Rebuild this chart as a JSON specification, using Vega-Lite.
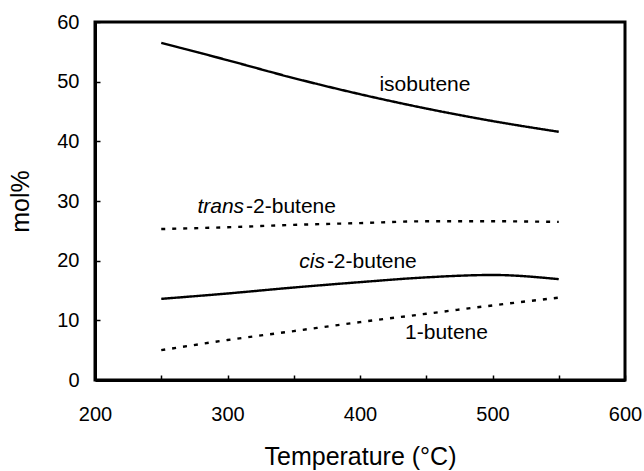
{
  "$schema": "https://vega.github.io/schema/vega-lite/v6.json",
  "autosize": "none",
  "width": 530,
  "height": 358,
  "padding": {"left": 95, "top": 22, "right": 19, "bottom": 91},
  "background": "white",
  "config": {
    "font": "Liberation Sans",
    "view": {"stroke": "black", "strokeWidth": 3},
    "axis": {"grid": false, "domainColor": "black", "domainWidth": 3, "tickColor": "black", "tickWidth": 1.5, "labelColor": "black", "titleColor": "black", "labelFont": "Liberation Sans", "titleFont": "Liberation Sans", "labelFontSize": 20, "titleFontSize": 25, "titleFontWeight": "normal"}
  },
  "datasets": {
    "curves": [
      {"series": "isobutene", "temp": 250, "value": 56.5},
      {"series": "isobutene", "temp": 300, "value": 53.6},
      {"series": "isobutene", "temp": 350, "value": 50.6},
      {"series": "isobutene", "temp": 400, "value": 47.9},
      {"series": "isobutene", "temp": 450, "value": 45.5},
      {"series": "isobutene", "temp": 500, "value": 43.4},
      {"series": "isobutene", "temp": 550, "value": 41.6},
      {"series": "trans-2-butene", "temp": 250, "value": 25.3},
      {"series": "trans-2-butene", "temp": 300, "value": 25.6},
      {"series": "trans-2-butene", "temp": 350, "value": 26.0},
      {"series": "trans-2-butene", "temp": 400, "value": 26.3},
      {"series": "trans-2-butene", "temp": 450, "value": 26.6},
      {"series": "trans-2-butene", "temp": 500, "value": 26.6},
      {"series": "trans-2-butene", "temp": 550, "value": 26.5},
      {"series": "cis-2-butene", "temp": 250, "value": 13.6},
      {"series": "cis-2-butene", "temp": 300, "value": 14.5},
      {"series": "cis-2-butene", "temp": 350, "value": 15.5},
      {"series": "cis-2-butene", "temp": 400, "value": 16.4},
      {"series": "cis-2-butene", "temp": 450, "value": 17.2},
      {"series": "cis-2-butene", "temp": 500, "value": 17.6},
      {"series": "cis-2-butene", "temp": 550, "value": 16.9},
      {"series": "1-butene", "temp": 250, "value": 5.0},
      {"series": "1-butene", "temp": 300, "value": 6.7},
      {"series": "1-butene", "temp": 350, "value": 8.2},
      {"series": "1-butene", "temp": 400, "value": 9.7},
      {"series": "1-butene", "temp": 450, "value": 11.1},
      {"series": "1-butene", "temp": 500, "value": 12.5},
      {"series": "1-butene", "temp": 550, "value": 13.8}
    ],
    "labelsLeft": [
      {"text": "-2-butene", "temp": 314, "value": 29.0},
      {"text": "-2-butene", "temp": 375, "value": 19.8},
      {"text": "1-butene", "temp": 434, "value": 7.9}
    ],
    "labelsRight": [
      {"text": "trans", "temp": 312.5, "value": 29.0},
      {"text": "cis", "temp": 373.5, "value": 19.8}
    ],
    "labelsCenter": [
      {"text": "isobutene", "temp": 449, "value": 49.4}
    ]
  },
  "layer": [
    {
      "data": {"name": "curves"},
      "mark": {"type": "line", "interpolate": "monotone", "color": "black", "strokeWidth": 2.4},
      "encoding": {
        "x": {"field": "temp", "type": "quantitative", "scale": {"domain": [200, 600]},
          "axis": {"title": "Temperature (°C)", "values": [200, 250, 300, 350, 400, 450, 500, 550, 600], "labelExpr": "datum.value % 100 == 0 ? datum.label : ''", "tickSize": -5, "labelPadding": 29, "titlePadding": 20, "labelFlush": false, "labelOverlap": false}},
        "y": {"field": "value", "type": "quantitative", "scale": {"domain": [0, 60]},
          "axis": {"title": "mol%", "values": [0, 5, 10, 15, 20, 25, 30, 35, 40, 45, 50, 55, 60], "labelExpr": "datum.value % 10 == 0 ? datum.label : ''", "tickSize": -5, "labelPadding": 21, "titlePadding": 23, "labelFlush": false, "labelOverlap": false}},
        "detail": {"field": "series"},
        "strokeDash": {"field": "series", "type": "nominal", "scale": {"domain": ["isobutene", "trans-2-butene", "cis-2-butene", "1-butene"], "range": [[1, 0], [4, 7], [1, 0], [4, 7]]}, "legend": null}
      }
    },
    {
      "data": {"name": "labelsCenter"},
      "mark": {"type": "text", "fontSize": 21, "color": "black", "baseline": "middle", "align": "center"},
      "encoding": {
        "x": {"field": "temp", "type": "quantitative"},
        "y": {"field": "value", "type": "quantitative"},
        "text": {"field": "text"}
      }
    },
    {
      "data": {"name": "labelsLeft"},
      "mark": {"type": "text", "fontSize": 21, "color": "black", "baseline": "middle", "align": "left"},
      "encoding": {
        "x": {"field": "temp", "type": "quantitative"},
        "y": {"field": "value", "type": "quantitative"},
        "text": {"field": "text"}
      }
    },
    {
      "data": {"name": "labelsRight"},
      "mark": {"type": "text", "fontSize": 21, "color": "black", "baseline": "middle", "align": "right", "fontStyle": "italic"},
      "encoding": {
        "x": {"field": "temp", "type": "quantitative"},
        "y": {"field": "value", "type": "quantitative"},
        "text": {"field": "text"}
      }
    }
  ]
}
